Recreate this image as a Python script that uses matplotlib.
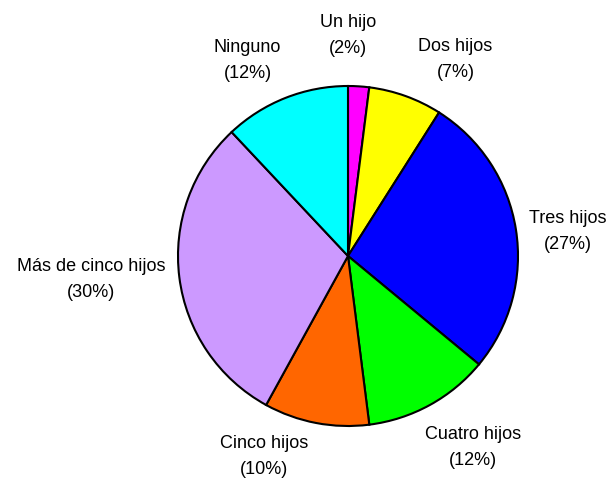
import matplotlib.pyplot as plt
import matplotlib.transforms as mtransforms
import numpy as np

plt.rcParams['font.family'] = ['Liberation Sans', 'DejaVu Sans']

# number of children per household
categorias = ["Un hijo", "Dos hijos", "Tres hijos", "Cuatro hijos",
              "Cinco hijos", "Más de cinco hijos", "Ninguno"]
porcentajes = [2, 7, 27, 12, 10, 30, 12]
colores = ["#FF00FF", "#FFFF00", "#0000FF", "#00FF00",
           "#FF6600", "#CC99FF", "#00FFFF"]

# small nudges (pixels, right / down) for the slice labels
ajuste_etq = [(-12, -12), (7, 1), (-4, 5), (-13, 6), (-49, -5), (3, 0), (2, 0)]

etiquetas = [f"{c}\n({p}%)" for c, p in zip(categorias, porcentajes)]

fig = plt.figure(figsize=(6.06, 4.78), dpi=100)
ax = fig.add_axes([0, 0, 1, 1])

wedges, texts = ax.pie(porcentajes, labels=etiquetas, colors=colores,
                       startangle=90, counterclock=False, radius=1.0,
                       labeldistance=1.1,
                       wedgeprops=dict(edgecolor="black", linewidth=1.5))

# anchor each label at the corner nearest the pie
for t, (dx, dy) in zip(texts, ajuste_etq):
    x, y = t.get_position()
    r = np.hypot(x, y)
    ux, uy = x / r, y / r
    t.set_ha("center" if abs(ux) < 0.2 else ("left" if ux > 0 else "right"))
    t.set_va("center" if abs(uy) < 0.3 else ("bottom" if uy > 0 else "top"))
    t.set_multialignment("center")
    t.set_fontsize(13.0)
    t.set_linespacing(1.7)
    t.set_transform(mtransforms.offset_copy(ax.transData, fig=fig,
                                            x=dx, y=-dy, units="dots"))

# pie centre at (348, 256) px, radius 170 px
ax.set_xlim(-348 / 170, (606 - 348) / 170)
ax.set_ylim(-(478 - 256) / 170, 256 / 170)
ax.set_aspect("auto")
ax.axis("off")

fig.savefig("out.png", dpi=100)
